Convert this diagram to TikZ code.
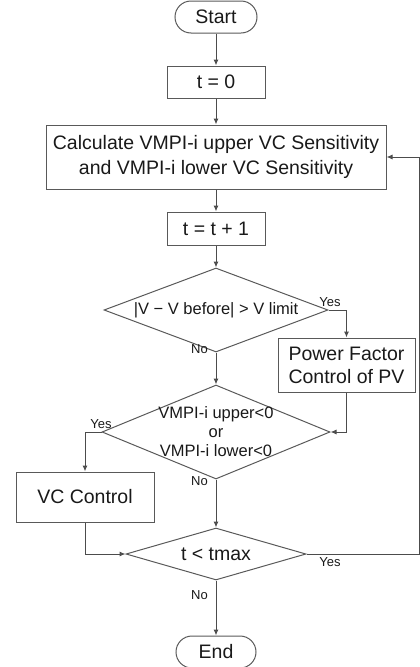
\documentclass[tikz,border=0pt]{standalone}
\usepackage{fontspec}
\setmainfont{Liberation Sans}
\usetikzlibrary{shapes.geometric,arrows.meta}

\begin{document}
\begin{tikzpicture}[x=1pt,y=-1pt,
   line/.style={draw=black!70, line width=1pt},
   arr/.style={line, -{Latex[length=6pt,width=5pt]}},
   box/.style={draw=black!65, line width=1pt, rectangle, inner sep=0pt, align=center,
      text=black!90, font=\fontsize{19.5}{24}\selectfont},
   term/.style={box, rounded corners=16pt},
   decision/.style={draw=black!65, line width=1pt, diamond, inner sep=-3pt, align=center,
      text=black!90, font=\fontsize{16.5}{19}\selectfont},
   lbl/.style={text=black!90, inner sep=0pt, font=\fontsize{13}{15}\selectfont}]
   \useasboundingbox (0,0) rectangle (420,667);
   \node[term, minimum width=82pt, minimum height=32pt] (start) at (216,17) {Start};
   \node[box, minimum width=98pt, minimum height=32pt] (tzero) at (216,82) {t = 0};
   \node[box, minimum width=340pt, minimum height=64pt, font=\fontsize{19.5}{25}\selectfont] (calc) at (216,157)
      {Calculate VMPI-i upper VC Sensitivity\\and VMPI-i lower VC Sensitivity};
   \node[box, minimum width=98pt, minimum height=33pt] (tinc) at (216,228.5) {t = t + 1};
   \node[decision, aspect=2.67, minimum width=224pt, minimum height=84pt] (dvolt) at (216,310)
      {|V − V before| > V limit};
   \node[box, minimum width=137pt, minimum height=54pt, font=\fontsize{19.5}{23}\selectfont] (pfc) at (346.5,365)
      {Power Factor\\Control of PV};
   \node[decision, aspect=2.43, minimum width=228pt, minimum height=94pt] (dsens) at (216,432)
      {VMPI-i upper<0\\or\\VMPI-i lower<0};
   \node[box, minimum width=138pt, minimum height=50pt] (vcc) at (85,497) {VC Control};
   \node[decision, aspect=3.46, minimum width=180pt, minimum height=52pt, font=\fontsize{19.5}{23}\selectfont] (dtime) at (216,554)
      {t < tmax};
   \node[term, minimum width=80pt, minimum height=32pt] (stop) at (216,652) {End};
   \coordinate (back) at (419,157);

   \draw[arr] (start) -- (tzero);
   \draw[arr] (tzero) -- (calc);
   \draw[arr] (calc) -- (tinc);
   \draw[arr] (tinc) -- (dvolt);
   \draw[arr] (dvolt.east) -| (pfc.north);
   \draw[arr] (dvolt.south) -- (dsens.north);
   \draw[arr] (pfc.south) |- (dsens.east);
   \draw[arr] (dsens.west) -| (vcc.north);
   \draw[arr] (dsens.south) -- (dtime.north);
   \draw[arr] (vcc.south) |- (dtime.west);
   \draw[arr] (dtime.south) -- (stop.north);
   \draw[arr] (dtime.east) -| (back) -- (calc.east);

   \node[lbl] (yvolt) at (330,302) {Yes};
   \node[lbl, anchor=east] (nvolt) at (208,349) {No};
   \node[lbl] (ysens) at (101,424) {Yes};
   \node[lbl, anchor=east] (nsens) at (208,481) {No};
   \node[lbl] (ytime) at (330,562) {Yes};
   \node[lbl, anchor=east] (ntime) at (208,595) {No};
\end{tikzpicture}
\end{document}
